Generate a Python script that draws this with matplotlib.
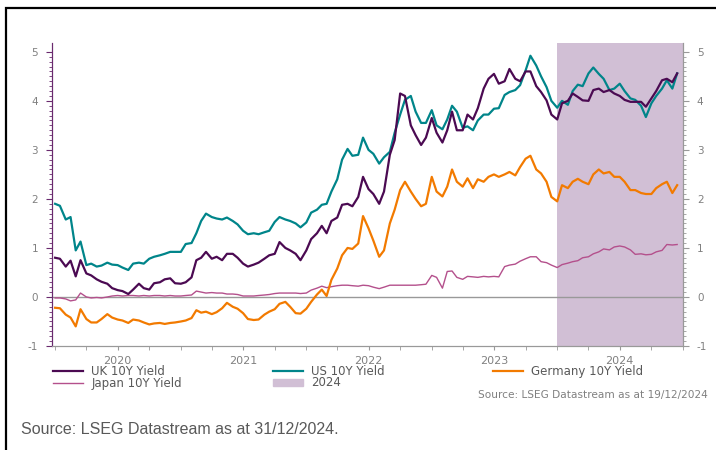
import numpy as np
import pandas as pd
import matplotlib
matplotlib.use("Agg")
import matplotlib.pyplot as plt
import matplotlib.dates as mdates
from matplotlib.patches import Rectangle, Patch

plt.rcParams["axes.unicode_minus"] = False

# semi-monthly observations, Jan 2020 - Dec 2024
dates = pd.date_range("2020-01-01", periods=120, freq="SMS")

uk_10y = [0.80, 0.78, 0.62, 0.74, 0.42, 0.75, 0.48, 0.44, 0.36, 0.31,
          0.27, 0.18, 0.14, 0.12, 0.06, 0.15, 0.27, 0.18, 0.15, 0.28,
          0.30, 0.36, 0.38, 0.28, 0.27, 0.30, 0.40, 0.75, 0.80, 0.92,
          0.78, 0.82, 0.75, 0.88, 0.88, 0.80, 0.68, 0.62, 0.66, 0.70,
          0.78, 0.85, 0.88, 1.12, 1.00, 0.95, 0.88, 0.75, 0.95, 1.18,
          1.30, 1.45, 1.30, 1.55, 1.62, 1.88, 1.90, 1.85, 2.04, 2.45,
          2.20, 2.10, 1.90, 2.15, 2.90, 3.20, 4.15, 4.10, 3.50, 3.30,
          3.10, 3.25, 3.65, 3.35, 3.15, 3.40, 3.78, 3.40, 3.40, 3.72,
          3.62, 3.85, 4.25, 4.45, 4.55, 4.35, 4.40, 4.65, 4.45, 4.40,
          4.60, 4.60, 4.30, 4.18, 4.01, 3.72, 3.62, 3.95, 4.00, 4.15,
          4.08, 4.01, 4.00, 4.22, 4.25, 4.18, 4.22, 4.15, 4.10, 4.02,
          3.98, 3.98, 3.98, 3.88, 4.05, 4.20, 4.42, 4.45, 4.38, 4.56]

us_10y = [1.90, 1.86, 1.58, 1.63, 0.95, 1.13, 0.65, 0.68, 0.62, 0.64,
          0.70, 0.66, 0.65, 0.60, 0.55, 0.68, 0.70, 0.68, 0.78, 0.82,
          0.85, 0.88, 0.92, 0.92, 0.92, 1.08, 1.10, 1.30, 1.55, 1.70,
          1.63, 1.60, 1.58, 1.62, 1.55, 1.48, 1.35, 1.28, 1.30, 1.28,
          1.32, 1.35, 1.53, 1.63, 1.58, 1.55, 1.50, 1.42, 1.52, 1.72,
          1.78, 1.88, 1.90, 2.15, 2.40, 2.80, 3.02, 2.88, 2.90, 3.25,
          3.00, 2.92, 2.72, 2.85, 2.96, 3.35, 3.72, 4.02, 4.10, 3.78,
          3.55, 3.55, 3.81, 3.50, 3.42, 3.62, 3.90, 3.78, 3.45, 3.48,
          3.40, 3.60, 3.72, 3.72, 3.84, 3.85, 4.12, 4.18, 4.22, 4.32,
          4.62, 4.92, 4.72, 4.50, 4.28, 4.00, 3.86, 4.00, 3.92, 4.20,
          4.33, 4.30, 4.56, 4.68, 4.55, 4.45, 4.22, 4.25, 4.35, 4.20,
          4.05, 4.02, 3.90, 3.67, 3.95, 4.10, 4.25, 4.42, 4.25, 4.56]

de_10y = [-0.22, -0.23, -0.36, -0.42, -0.60, -0.25, -0.45, -0.52, -0.52, -0.45,
          -0.35, -0.42, -0.46, -0.48, -0.53, -0.46, -0.48, -0.52, -0.56, -0.54,
          -0.53, -0.55, -0.53, -0.52, -0.50, -0.48, -0.43, -0.27, -0.32, -0.30,
          -0.35, -0.31, -0.23, -0.12, -0.20, -0.24, -0.33, -0.45, -0.47, -0.46,
          -0.36, -0.30, -0.25, -0.14, -0.10, -0.20, -0.33, -0.34, -0.24, -0.10,
          0.05, 0.15, 0.02, 0.35, 0.58, 0.85, 1.00, 0.98, 1.09, 1.65,
          1.40, 1.15, 0.82, 0.95, 1.50, 1.78, 2.18, 2.35, 2.15, 2.00,
          1.85, 1.90, 2.45, 2.15, 2.05, 2.25, 2.60, 2.35, 2.25, 2.42,
          2.22, 2.40, 2.35, 2.45, 2.50, 2.45, 2.50, 2.55, 2.48, 2.65,
          2.82, 2.88, 2.60, 2.52, 2.35, 2.04, 1.95, 2.28, 2.22, 2.35,
          2.41, 2.35, 2.30, 2.50, 2.60, 2.52, 2.55, 2.45, 2.45, 2.35,
          2.18, 2.18, 2.12, 2.10, 2.10, 2.22, 2.30, 2.35, 2.12, 2.28]

jp_10y = [-0.02, -0.02, -0.04, -0.08, -0.06, 0.08, 0.00, -0.02, -0.01, -0.02,
          0.00, 0.02, 0.03, 0.02, 0.03, 0.03, 0.02, 0.03, 0.02, 0.03,
          0.03, 0.02, 0.03, 0.02, 0.02, 0.03, 0.04, 0.12, 0.10, 0.08,
          0.09, 0.08, 0.08, 0.06, 0.06, 0.05, 0.02, 0.02, 0.02, 0.03,
          0.04, 0.05, 0.07, 0.08, 0.08, 0.08, 0.08, 0.07, 0.08, 0.14,
          0.18, 0.22, 0.19, 0.21, 0.23, 0.24, 0.24, 0.23, 0.22, 0.24,
          0.23, 0.20, 0.17, 0.20, 0.24, 0.24, 0.24, 0.24, 0.24, 0.24,
          0.25, 0.26, 0.44, 0.40, 0.18, 0.52, 0.53, 0.40, 0.36, 0.42,
          0.41, 0.40, 0.42, 0.41, 0.42, 0.41, 0.62, 0.65, 0.67, 0.73,
          0.78, 0.82, 0.82, 0.72, 0.70, 0.65, 0.60, 0.66, 0.69, 0.72,
          0.74, 0.80, 0.82, 0.88, 0.92, 0.98, 0.96, 1.02, 1.04, 1.02,
          0.96, 0.87, 0.88, 0.86, 0.87, 0.92, 0.95, 1.07, 1.06, 1.07]

shade_start = pd.Timestamp("2024-01-01")
shade_end = pd.Timestamp("2025-01-01")

UK_C = "#4b0a52"
US_C = "#00858a"
DE_C = "#f27a00"
JP_C = "#b4508c"
SHADE_C = "#d1bfd5"
GREY = "#808080"

W, H = 716, 450
fig = plt.figure(figsize=(W / 100, H / 100), dpi=100)
ax = fig.add_axes([52 / W, 1 - 346 / H, (683 - 52) / W, (346 - 43) / H])

ax.axvspan(shade_start, shade_end, color=SHADE_C, lw=0, zorder=0)
ax.axhline(0, color="#999999", lw=1.0, zorder=1)

l_jp, = ax.plot(dates, jp_10y, color=JP_C, lw=1.0, zorder=2)
l_de, = ax.plot(dates, de_10y, color=DE_C, lw=1.6, zorder=3)
l_us, = ax.plot(dates, us_10y, color=US_C, lw=1.6, zorder=4)
l_uk, = ax.plot(dates, uk_10y, color=UK_C, lw=1.6, zorder=5)

ax.set_xlim(pd.Timestamp("2019-12-23"), shade_end)
ax.set_ylim(-1, 5.18)

# x axis: quarterly ticks, year labels mid-year
ax.xaxis.set_major_locator(mdates.MonthLocator(bymonth=7))
ax.xaxis.set_major_formatter(mdates.DateFormatter("%Y"))
ax.xaxis.set_minor_locator(mdates.MonthLocator(bymonth=[1, 4, 10]))
ax.tick_params(axis="x", which="both", length=3, color="#999999",
               labelsize=8, labelcolor=GREY, pad=4)

# y axes
ax.set_yticks(range(-1, 6))
ax.set_yticks(np.arange(-1, 5.01, 0.1), minor=True)
ax.tick_params(axis="y", which="major", length=4, color="#6a2a6e",
               labelsize=7.5, labelcolor=GREY, pad=6)
ax.tick_params(axis="y", which="minor", length=2, color="#6a2a6e")

ax2 = ax.twinx()
ax2.set_ylim(ax.get_ylim())
ax2.set_yticks(range(-1, 6))
ax2.set_yticks(np.arange(-1, 5.01, 0.1), minor=True)
ax2.tick_params(axis="y", which="major", length=4, color="#999999",
                labelsize=7.5, labelcolor=GREY, pad=6)
ax2.tick_params(axis="y", which="minor", length=2, color="#999999")

for a in (ax, ax2):
    a.spines["top"].set_visible(False)
    a.spines["bottom"].set_color("#999999")
    a.spines["right"].set_color("#999999")
    a.spines["left"].set_color("#6a2a6e")

# legend, one entry per slot
entries = [
    (l_uk, "UK 10Y Yield", 53, 371.5),
    (l_us, "US 10Y Yield", 273, 371.5),
    (l_de, "Germany 10Y Yield", 493, 371.5),
    (l_jp, "Japan 10Y Yield", 53, 383),
    (Patch(color=SHADE_C), "2024", 273, 383),
]
for h, lab, px, py in entries:
    fig.legend([h], [lab], loc="center left", bbox_to_anchor=(px / W, 1 - py / H),
               frameon=False, fontsize=8.5, labelcolor="#595959",
               handlelength=2.55, handleheight=0.55, handletextpad=0.7,
               borderpad=0, borderaxespad=0)

fig.text(708 / W, 1 - 395 / H, "Source: LSEG Datastream as at 19/12/2024",
         ha="right", va="center", fontsize=7.6, color=GREY)
fig.text(21 / W, 1 - 430 / H, "Source: LSEG Datastream as at 31/12/2024.",
         ha="left", va="center", fontsize=11.5, color="#595959",
         family="Liberation Sans")

# black frame around the chart
fig.add_artist(Rectangle((6 / W, -0.1), 1.2, (H - 8.3) / H + 0.1,
                         transform=fig.transFigure, fill=False,
                         ec="black", lw=1.6, clip_on=False))

fig.savefig("out.png", dpi=100)
